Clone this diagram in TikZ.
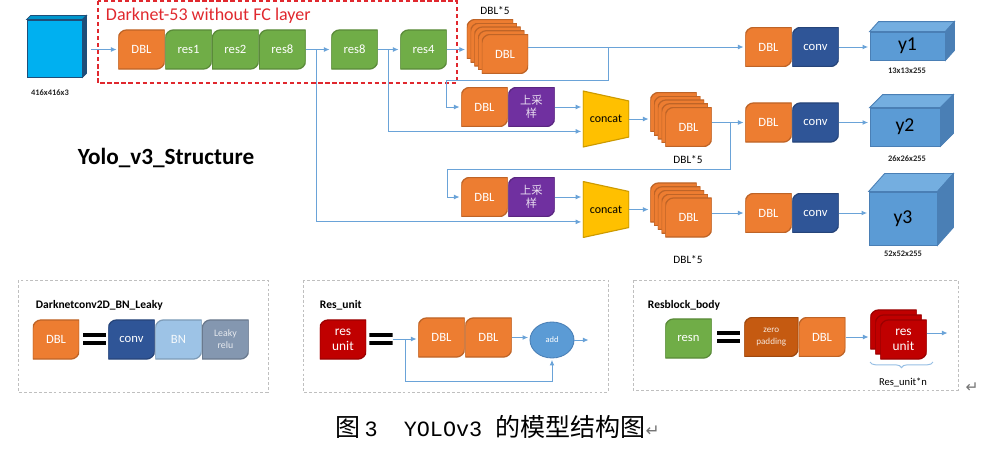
\documentclass[tikz,border=0pt]{standalone}
\usepackage{fontspec}
\setmainfont{Carlito}
\newfontfamily\cjk{Noto Sans CJK SC}
\newfontfamily\mono{Liberation Mono}
\newfontfamily\symf{DejaVu Sans}
\usetikzlibrary{positioning,shapes.geometric,arrows.meta,decorations.pathreplacing}

\definecolor{dblc}{HTML}{ED7D31}
\definecolor{resc}{HTML}{70AD47}
\definecolor{upc}{HTML}{7030A0}
\definecolor{convc}{HTML}{2F5597}
\definecolor{bnc}{HTML}{9DC3E6}
\definecolor{lrc}{HTML}{8497B0}
\definecolor{ruc}{HTML}{C00000}
\definecolor{zpc}{HTML}{C55A11}
\definecolor{catc}{HTML}{FFC000}
\definecolor{cubec}{HTML}{5B9BD5}
\definecolor{cubetop}{HTML}{74AEE0}
\definecolor{cubeside}{HTML}{4A7FB5}
\definecolor{inc}{HTML}{00B0F0}
\definecolor{inside}{HTML}{1F4E79}
\definecolor{lnc}{HTML}{6AA3D8}
\definecolor{darkred}{HTML}{E0282E}

\tikzset{
  blk/.style={minimum width=1.16cm, minimum height=0.98cm, inner sep=0pt,
    text=white, font=\fontsize{9}{10}\selectfont, align=center,
    path picture={\path[fill=#1, draw=#1!80!black, line width=0.9pt]
      (path picture bounding box.south west)
      -- ([yshift=-6pt]path picture bounding box.north west)
      arc[start angle=180, end angle=90, radius=6pt]
      -- (path picture bounding box.north east)
      -- ([yshift=6pt]path picture bounding box.south east)
      arc[start angle=0, end angle=-90, radius=6pt] -- cycle;}},
  dbl/.style={blk=dblc},
  res/.style={blk=resc},
  up/.style={blk=upc, font=\cjk\fontsize{8}{9.5}\selectfont, text=white!85!upc},
  conv/.style={blk=convc},
  bn/.style={blk=bnc, text=white!90!bnc},
  lr/.style={blk=lrc, font=\fontsize{7}{8.5}\selectfont, text=white!80!lrc},
  ru/.style={blk=ruc, font=\fontsize{9.5}{10.5}\selectfont},
  zp/.style={blk=zpc, minimum width=1.35cm, font=\fontsize{6.5}{8}\selectfont, text=white!85!zpc},
  cat/.style={minimum width=1.15cm, minimum height=1.4cm, inner sep=0pt,
    font=\fontsize{8.5}{9}\selectfont,
    path picture={\path[fill=catc, draw=catc!80!black, line width=0.8pt]
      (path picture bounding box.south west) -- (path picture bounding box.north west)
      -- ([yshift=-0.25cm]path picture bounding box.north east)
      -- ([yshift=0.25cm]path picture bounding box.south east) -- cycle;}},
  eqs/.style={minimum width=0.575cm, minimum height=0.3cm, inner sep=0pt,
    path picture={\fill[black] (path picture bounding box.north west)
      rectangle ([yshift=-0.11cm]path picture bounding box.north east);
      \fill[black] (path picture bounding box.south west)
      rectangle ([yshift=0.11cm]path picture bounding box.south east);}},
  cube/.style={fill=cubec, draw=cubeside, line width=0.6pt, inner sep=0pt,
    font=\fontsize{14}{15}\selectfont},
  addn/.style={ellipse, fill=cubec, draw=cubeside, line width=0.6pt, minimum width=1.1cm,
    minimum height=0.9cm, inner sep=0pt, text=white, font=\fontsize{6}{7}\selectfont},
  arr/.style={draw=lnc, line width=0.7pt, -{Latex[length=4pt,width=3.5pt]}, shorten >=1pt},
  size/.style={font=\bfseries\fontsize{6}{7}\selectfont, text=black!85},
  boxline/.style={draw=black!25, line width=0.6pt, dash pattern=on 2pt off 1.5pt},
  boxtitle/.style={anchor=west, font=\bfseries\fontsize{8.2}{9}\selectfont},
}

\newcommand{\cubefaces}[5]{%
  \filldraw[fill=#4, draw=#5, line width=0.6pt] (#1.north west) -- ([shift={(#2,#3)}]#1.north west)
    -- ([shift={(#2,#3)}]#1.north east) -- (#1.north east) -- cycle;
  \filldraw[fill=#5, draw=#5, line width=0.6pt] (#1.north east) -- ([shift={(#2,#3)}]#1.north east)
    -- ([shift={(#2,#3)}]#1.south east) -- (#1.south east) -- cycle;}

\begin{document}
\begin{tikzpicture}[x=0.025cm, y=-0.025cm]
    \useasboundingbox (0,0) rectangle (989,449);
    % Input
    \node[cube, fill=inc, draw=inside, minimum width=1.375cm, minimum height=1.425cm] (c0) at (54.5,48.5) {};
    \cubefaces{c0}{4}{-4}{inc!85!black}{inside}
    \node[size] (l0) at (50,93) {416x416x3};

    % Darknet-53
    \draw[darkred, line width=1pt, dash pattern=on 3pt off 2pt] (98,1) rectangle (457,83);
    \node[anchor=west, text=darkred, font=\fontsize{12.8}{14}\selectfont] (dk) at (101,16) {Darknet-53 without FC layer};
    \node[dbl, anchor=west] (d0) at (118,49.5) {DBL};
    \node[res, right=0pt of d0] (r1) {res1};
    \node[res, right=0pt of r1] (r2) {res2};
    \node[res, right=0pt of r2] (r3) {res8};
    \node[res, anchor=west] (r4) at (331,49.5) {res8};
    \node[res, anchor=west] (r5) at (400,49.5) {res4};

    % DBL*5 stacks
    \foreach \i in {4,3,2,1}
        \node[dbl] (q1-\i) at ({505-3.75*\i},{54-3.75*\i}) {};
    \node[dbl] (q1) at (505,54) {DBL};
    \node[font=\fontsize{8}{9}\selectfont] (n1) at (495,11) {DBL*5};

    \node[dbl, anchor=west] (u2) at (461,107) {DBL};
    \node[up, right=0pt of u2] (p2) {上采\\样};
    \node[cat] (k2) at (606,119) {concat};
    \foreach \i in {4,3,2,1}
        \node[dbl] (q2-\i) at ({688.5-3.75*\i},{127-3.75*\i}) {};
    \node[dbl] (q2) at (688.5,127) {DBL};
    \node[font=\fontsize{8}{9}\selectfont] (n2) at (688,160) {DBL*5};

    \node[dbl, anchor=west] (u3) at (461,197) {DBL};
    \node[up, right=0pt of u3] (p3) {上采\\样};
    \node[cat] (k3) at (606,209.5) {concat};
    \foreach \i in {4,3,2,1}
        \node[dbl] (q3-\i) at ({688.5-3.75*\i},{217.5-3.75*\i}) {};
    \node[dbl] (q3) at (688.5,217.5) {DBL};
    \node[font=\fontsize{8}{9}\selectfont] (n3) at (688,260) {DBL*5};

    % Outputs
    \node[dbl, anchor=west] (h1) at (745,47) {DBL};
    \node[conv, right=0pt of h1] (v1) {conv};
    \node[cube, minimum width=1.875cm, minimum height=0.7cm] (y1) at (907.5,46) {y1};
    \cubefaces{y1}{9}{-10}{cubetop}{cubeside}
    \node[size] (z1) at (907,71) {13x13x255};

    \node[dbl, anchor=west] (h2) at (745,122.5) {DBL};
    \node[conv, right=0pt of h2] (v2) {conv};
    \node[cube, minimum width=1.75cm, minimum height=0.95cm] (y2) at (905,127) {y2};
    \cubefaces{y2}{13}{-13}{cubetop}{cubeside}
    \node[size] (z2) at (907,159) {26x26x255};

    \node[dbl, anchor=west] (h3) at (745,213) {DBL};
    \node[conv, right=0pt of h3] (v3) {conv};
    \node[cube, minimum width=1.7cm, minimum height=1.325cm] (y3) at (903,218.5) {y3};
    \cubefaces{y3}{16}{-18}{cubetop}{cubeside}
    \node[size] (z3) at (903,254) {52x52x255};

    % Connectors
    \coordinate (s1) at (316,49.5);
    \coordinate (s2) at (388,49.5);
    \coordinate (t1) at (608,47);
    \coordinate (t2) at (446,80);
    \coordinate (t3) at (730,122.5);
    \coordinate (t4) at (447,169);
    \draw[arr, shorten <=6pt] (c0.east |- d0) -- (d0.west);
    \draw[arr] (r3.east) -- (r4.west);
    \draw[arr] (r4.east) -- (r5.west);
    \draw[arr] (r5.east) -- (r5.east -| q1-4.west);
    \draw[arr] (s1) |- ([yshift=-0.31cm]k3.west);
    \draw[arr] (s2) |- ([yshift=-0.31cm]k2.west);
    \draw[arr] (q1.east |- h1) -- (h1.west);
    \draw[arr] (t1) |- (t2) |- (u2.west);
    \draw[arr] (p2.east) -- (p2.east -| k2.west);
    \draw[arr] (k2.east) -- (k2.east -| q2-4.west);
    \draw[arr] (q2.east |- h2) -- (h2.west);
    \draw[arr] (t3) |- (t4) |- (u3.west);
    \draw[arr] (p3.east) -- (p3.east -| k3.west);
    \draw[arr] (k3.east) -- (k3.east -| q3-4.west);
    \draw[arr] (q3.east |- h3) -- (h3.west);
    \draw[arr] (v1.east) -- (v1.east -| y1.west);
    \draw[arr] (v2.east) -- (v2.east -| y2.west);
    \draw[arr] (v3.east) -- (v3.east -| y3.west);

    \node[font=\bfseries\fontsize{16.5}{18}\selectfont] (tt) at (166,158) {Yolo\_v3\_Structure};

    % Darknetconv2D_BN_Leaky
    \draw[boxline] (18,280) rectangle (268,392);
    \node[boxtitle] (b1) at (31,305) {Darknetconv2D\_BN\_Leaky};
    \node[dbl] (bd) at (56,339.5) {DBL};
    \node[eqs] (e1) at (94.5,339) {};
    \node[conv, anchor=west] (bc) at (108,339.5) {conv};
    \node[bn, right=0pt of bc] (bb) {BN};
    \node[lr, right=0pt of bb] (bl) {Leaky\\relu};

    % Res_unit
    \draw[boxline] (303,280) rectangle (608,392);
    \node[boxtitle] (b2) at (315,305) {Res\_unit};
    \node[ru] (ru0) at (343,339.5) {res\\unit};
    \node[eqs] (e2) at (381,339) {};
    \node[dbl, anchor=west] (a1) at (418,337.5) {DBL};
    \node[dbl, right=0pt of a1] (a2) {DBL};
    \node[addn] (ad) at (552,340) {add};
    \coordinate (m1) at (405,339);
    \coordinate (o2) at (590,340);
    \draw[arr] (e2.east) -- (e2.east -| a1.west);
    \draw[arr] (a2.east) -- (a2.east -| ad.west);
    \draw[arr] (m1) |- (ad.south |- 0,381) -- (ad.south);
    \draw[arr] (ad.east) -- (o2);

    % Resblock_body
    \draw[boxline] (633,280) rectangle (958,390);
    \node[boxtitle] (b3) at (643,305) {Resblock\_body};
    \node[res] (rn) at (688.5,338.5) {resn};
    \node[eqs] (e3) at (728.5,337) {};
    \node[zp, anchor=west] (zp) at (744,337) {zero\\padding};
    \node[dbl, right=0pt of zp] (zd) {DBL};
    \foreach \i in {2,1}
        \node[ru] (rs-\i) at ({903.5-5*\i},{339.5-5*\i}) {};
    \node[ru] (rs) at (903.5,339.5) {res\\unit};
    \coordinate (o3) at (949,333);
    \draw[arr] (zd.east) -- (zd.east -| rs-2.west);
    \draw[arr] (rs.east |- o3) -- (o3);
    \draw[draw=lnc!70, line width=0.7pt, decorate, decoration={brace, mirror, amplitude=4pt}] (870,362) -- (933,362);
    \node[font=\fontsize{7.5}{8}\selectfont] (rn5) at (903,382) {Res\_unit*n};
    \node[text=black!55, font=\symf\fontsize{11}{12}\selectfont] (rt) at (972,388) {↵};

    % Caption
    \node[font=\cjk\fontsize{17.8}{19}\selectfont] (cap) at (497.5,427)
        {图\hspace{3pt}{\mono\fontsize{15.5}{17}\selectfont 3\ \ YOLOv3\ }的模型结构图{\symf\color{black!55}\fontsize{12}{13}\selectfont ↵}};
\end{tikzpicture}
\end{document}
